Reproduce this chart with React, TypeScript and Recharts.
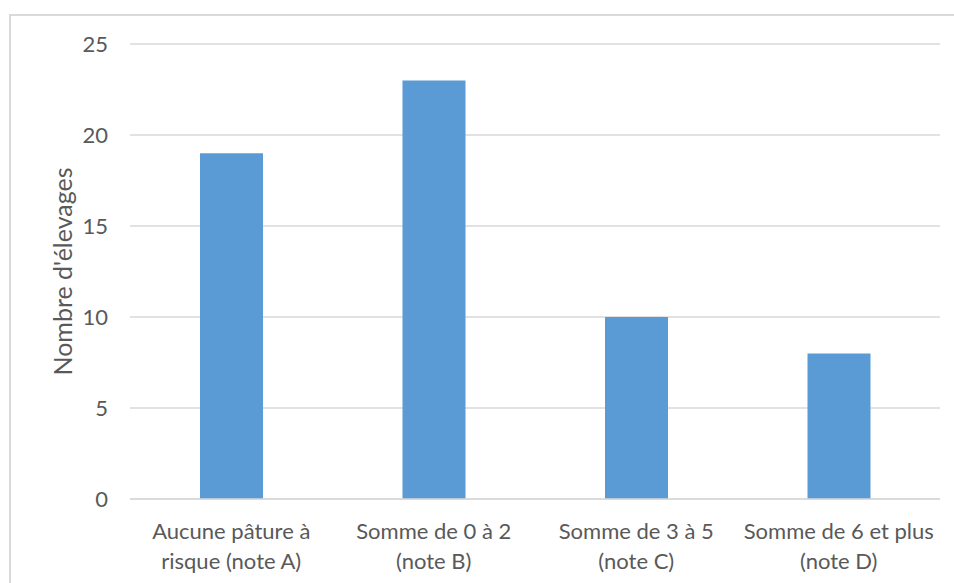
import { Bar, BarChart, CartesianGrid, XAxis, YAxis } from "recharts";

const categories = [
  "Aucune pâture à\nrisque (note A)",
  "Somme de 0 à 2\n(note B)",
  "Somme de 3 à 5\n(note C)",
  "Somme de 6 et plus\n(note D)",
];
const elevages = [19, 23, 10, 8];
const yTicks = [0, 5, 10, 15, 20, 25];

const data = categories.map((c, i) => ({ cat: c, value: elevages[i] }));

const FONT = "Lato, 'Liberation Sans', sans-serif";
const TEXT = "#595959";
const FS = 22;

function CatTick({ x, y, payload }: any) {
  const lines = String(payload.value).split("\n");
  return (
    <text x={x} y={y} textAnchor="middle" fill={TEXT} fontSize={FS} fontFamily={FONT}>
      {lines.map((l, i) => (
        <tspan key={i} x={x} dy={i === 0 ? 32 : 30}>
          {l}
        </tspan>
      ))}
    </text>
  );
}

// axis title, rotated
function YTitle({ viewBox }: any) {
  const cy = viewBox.y + viewBox.height / 2;
  const cx = 62;
  return (
    <text
      x={cx}
      y={cy}
      transform={`rotate(-90 ${cx} ${cy})`}
      textAnchor="middle"
      dominantBaseline="central"
      fill={TEXT}
      fontSize={25}
      fontFamily={FONT}
    >
      Nombre d'élevages
    </text>
  );
}

export default function App() {
  return (
    <div style={{ position: "absolute", left: 0, top: 0, width: 954, height: 583, overflow: "hidden", background: "#fff" }}>
      <div
        style={{
          position: "absolute",
          left: 9,
          top: 14,
          width: 980,
          height: 620,
          border: "2px solid #d9d9d9",
          boxSizing: "border-box",
        }}
      />
      <div style={{ position: "absolute", left: 0, top: 0 }}>
        <BarChart width={954} height={583} data={data} margin={{ top: 44, right: 14, bottom: 0, left: 0 }} barCategoryGap={70}>
          <CartesianGrid vertical={false} stroke="#d9d9d9" strokeWidth={1.5} />
          <XAxis
            dataKey="cat"
            height={84}
            axisLine={{ stroke: "#d9d9d9", strokeWidth: 1.5 }}
            tickLine={false}
            tick={<CatTick />}
            interval={0}
          />
          <YAxis
            width={130}
            domain={[0, 25]}
            ticks={yTicks}
            axisLine={false}
            tickLine={false}
            tickSize={0}
            tickMargin={22}
            tick={{ fill: TEXT, fontSize: FS, fontFamily: FONT }}
            label={{ content: <YTitle /> }}
          />
          <Bar dataKey="value" fill="#5B9BD5" isAnimationActive={false} />
        </BarChart>
      </div>
    </div>
  );
}
